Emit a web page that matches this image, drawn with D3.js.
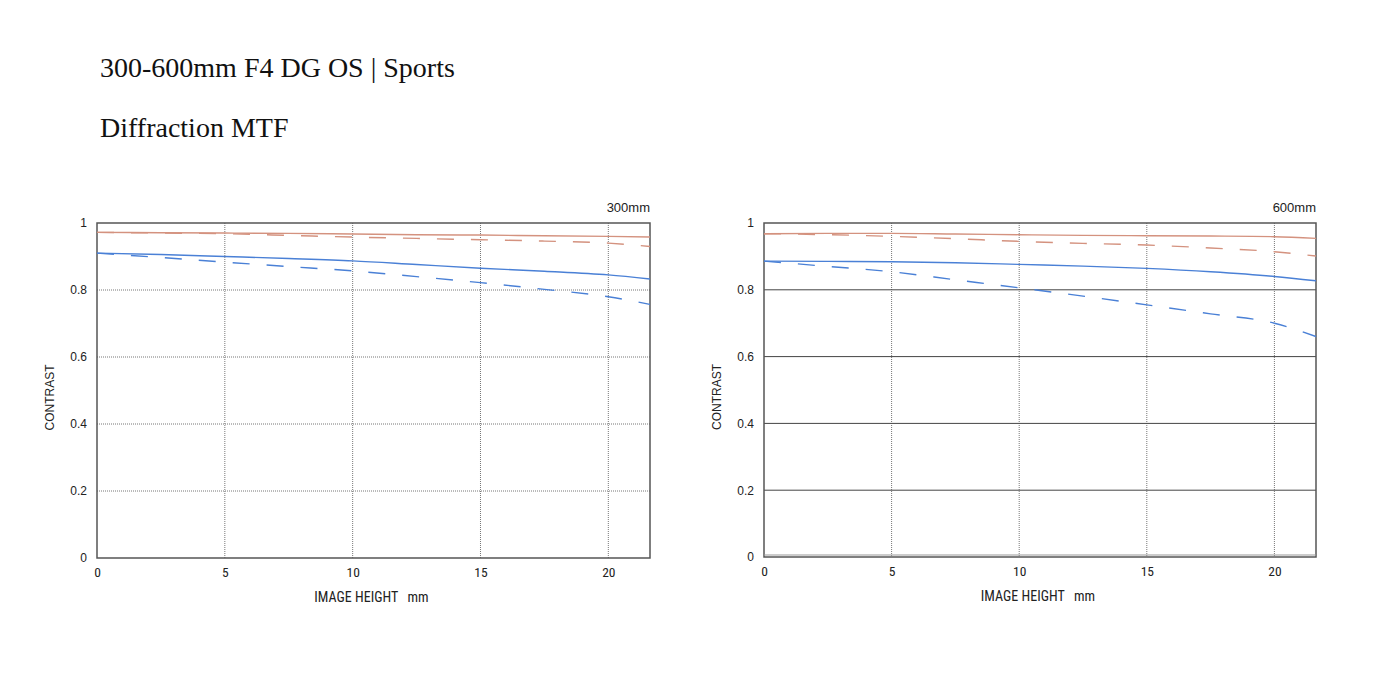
<!DOCTYPE html>
<html><head><meta charset="utf-8">
<script src="https://cdn.jsdelivr.net/npm/d3@7"></script>
<style>body{margin:0;background:#fff;} svg{display:block;}</style>
</head><body>
<svg id="c" width="1400" height="700"></svg>
<script>
const imageHeights = [0, 2.5, 5, 7.5, 10, 12.5, 15, 17.5, 20, 21.63];
const xTicks = [0, 5, 10, 15, 20];
const yTicks = [0, 0.2, 0.4, 0.6, 0.8, 1];
const yTickLabels = ["0", "0.2", "0.4", "0.6", "0.8", "1"];
const focalLabels = ["300mm", "600mm"];
// 300mm
const wide_S10 = [0.972, 0.971, 0.970, 0.969, 0.967, 0.965, 0.964, 0.962, 0.960, 0.958];
const wide_M10 = [0.972, 0.970, 0.968, 0.963, 0.958, 0.954, 0.950, 0.946, 0.940, 0.930];
const wide_S30 = [0.910, 0.906, 0.900, 0.894, 0.887, 0.876, 0.865, 0.856, 0.845, 0.833];
const wide_M30 = [0.910, 0.897, 0.883, 0.870, 0.857, 0.840, 0.822, 0.802, 0.780, 0.757];
// 600mm
const tele_S10 = [0.968, 0.969, 0.969, 0.967, 0.965, 0.963, 0.962, 0.961, 0.959, 0.954];
const tele_M10 = [0.968, 0.965, 0.960, 0.953, 0.945, 0.939, 0.934, 0.925, 0.914, 0.901];
const tele_S30 = [0.886, 0.885, 0.884, 0.881, 0.876, 0.871, 0.864, 0.854, 0.840, 0.827];
const tele_M30 = [0.886, 0.870, 0.854, 0.830, 0.806, 0.781, 0.755, 0.728, 0.700, 0.660];

const svg = d3.select("#c");
svg.append("text").attr("x", 100).attr("y", 77)
  .attr("font-family", "'Liberation Serif', 'DejaVu Serif', serif").attr("font-size", 28).attr("fill", "#111")
  .text("300-600mm F4 DG OS | Sports");
svg.append("text").attr("x", 100).attr("y", 137)
  .attr("font-family", "'Liberation Serif', 'DejaVu Serif', serif").attr("font-size", 28).attr("fill", "#111")
  .text("Diffraction MTF");

const RED = "#d4927f", BLUE = "#4a80d6";
const panels = [
  {left: 97, right: 650, top: 223, bottom: 558, label: focalLabels[0], solidH: false,
   series: [[wide_S10, RED, false], [wide_M10, RED, true], [wide_S30, BLUE, false], [wide_M30, BLUE, true]]},
  {left: 764, right: 1316, top: 223, bottom: 557, label: focalLabels[1], solidH: true,
   series: [[tele_S10, RED, false], [tele_M10, RED, true], [tele_S30, BLUE, false], [tele_M30, BLUE, true]]}
];

const sans = "'Liberation Sans', Arial, sans-serif";
const narrow = "'Liberation Sans Narrow', 'Roboto Condensed', Roboto, sans-serif";

panels.forEach(p => {
  const x = d3.scaleLinear().domain([0, 21.63]).range([p.left, p.right]);
  const y = d3.scaleLinear().domain([0, 1]).range([p.bottom, p.top]);
  const g = svg.append("g");

  g.selectAll(".vg").data(xTicks.filter(d => d > 0)).enter().append("line")
    .attr("x1", d => x(d)).attr("x2", d => x(d)).attr("y1", p.top).attr("y2", p.bottom)
    .attr("stroke", "#777").attr("stroke-width", 1).attr("stroke-dasharray", "1,1");
  g.selectAll(".hg").data(yTicks.filter(d => d > 0 && d < 1)).enter().append("line")
    .attr("x1", p.left).attr("x2", p.right).attr("y1", d => y(d)).attr("y2", d => y(d))
    .attr("stroke", p.solidH ? "#444" : "#777").attr("stroke-width", 1)
    .attr("stroke-dasharray", p.solidH ? null : "1,1");

  g.append("rect").attr("x", p.left).attr("y", p.top).attr("width", p.right - p.left).attr("height", p.bottom - p.top)
    .attr("fill", "none").attr("stroke", "#555").attr("stroke-width", 1.5);
  if (p.solidH) {
    g.append("line").attr("x1", p.left).attr("x2", p.right).attr("y1", p.bottom - 2).attr("y2", p.bottom - 2)
      .attr("stroke", "#999").attr("stroke-width", 1);
  }

  const xa = d3.axisBottom(x).tickValues(xTicks).tickSize(0).tickPadding(9).tickFormat(d3.format("d"));
  const xg = g.append("g").attr("transform", `translate(0,${p.bottom})`).call(xa);
  xg.select(".domain").remove();
  xg.selectAll("text").attr("font-family", narrow).attr("font-size", 13.5).attr("fill", "#222");

  const ya = d3.axisLeft(y).tickValues(yTicks).tickSize(0).tickPadding(10)
    .tickFormat((d, i) => yTickLabels[i]);
  const yg = g.append("g").attr("transform", `translate(${p.left},0)`).call(ya);
  yg.select(".domain").remove();
  yg.selectAll("text").attr("font-family", sans).attr("font-size", 12).attr("fill", "#222");

  g.append("text").attr("x", (p.left + p.right) / 2 - 2).attr("y", p.bottom + 44)
    .attr("text-anchor", "middle").attr("font-family", narrow).attr("font-size", 14).attr("fill", "#222")
    .attr("xml:space", "preserve").text("IMAGE HEIGHT   mm");
  g.append("text").attr("transform", `translate(${p.left - 43},${(p.top + p.bottom) / 2 + 7}) rotate(-90)`)
    .attr("text-anchor", "middle").attr("font-family", sans).attr("font-size", 12).attr("fill", "#222")
    .text("CONTRAST");
  g.append("text").attr("x", p.right).attr("y", p.top - 11).attr("text-anchor", "end")
    .attr("font-family", sans).attr("font-size", 13).attr("fill", "#222").text(p.label);

  const line = d3.line().x((d, i) => x(imageHeights[i])).y(d => y(d)).curve(d3.curveMonotoneX);
  p.series.forEach(([vals, col, dashed]) => {
    g.append("path").attr("d", line(vals)).attr("fill", "none").attr("stroke", col)
      .attr("stroke-width", 1.4).attr("stroke-dasharray", dashed ? "17,17" : null);
  });
});
</script>
</body></html>
